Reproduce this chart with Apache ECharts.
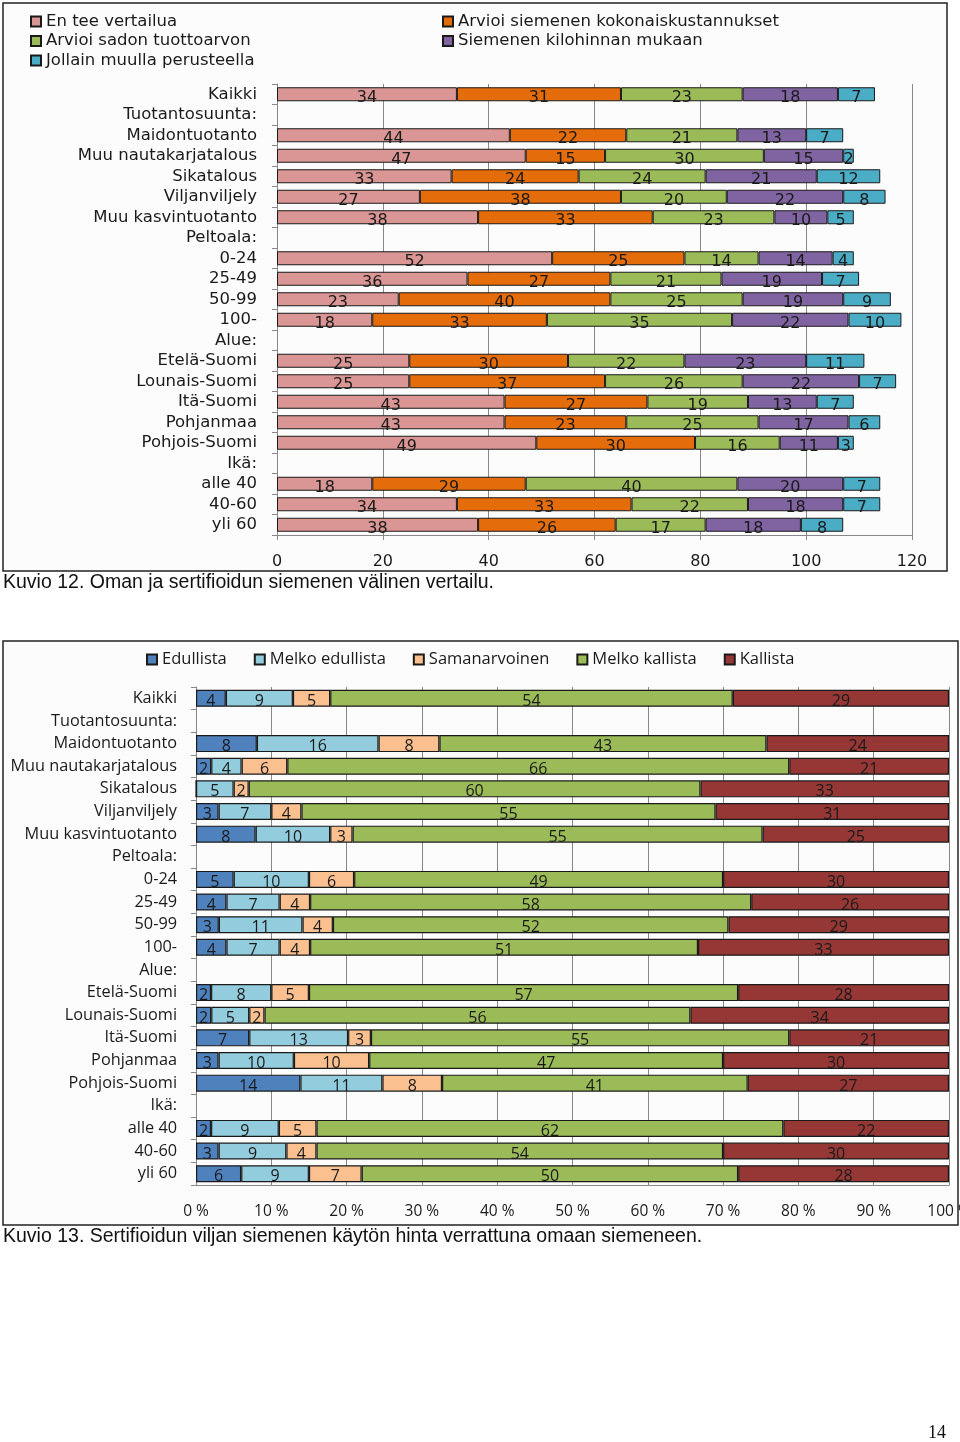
<!DOCTYPE html>
<html><head><meta charset="utf-8">
<script src="https://cdn.jsdelivr.net/npm/echarts@6/dist/echarts.min.js"></script>
<style>html,body{margin:0;padding:0;background:#fff}#c{width:960px;height:1442px}</style>
</head><body><div id="c"></div>
<script>
const categories = ['Kaikki','Tuotantosuunta:','Maidontuotanto','Muu nautakarjatalous','Sikatalous','Viljanviljely','Muu kasvintuotanto','Peltoala:','0-24','25-49','50-99','100-','Alue:','Etelä-Suomi','Lounais-Suomi','Itä-Suomi','Pohjanmaa','Pohjois-Suomi','Ikä:','alle 40','40-60','yli 60'];

// Chart 1 (Kuvio 12)
const names1 = ['En tee vertailua','Arvioi siemenen kokonaiskustannukset','Arvioi sadon tuottoarvon','Siemenen kilohinnan mukaan','Jollain muulla perusteella'];
const enTee      = [34,null,44,47,33,27,38,null,52,36,23,18,null,25,25,43,43,49,null,18,34,38];
const kokonais   = [31,null,22,15,24,38,33,null,25,27,40,33,null,30,37,27,23,30,null,29,33,26];
const sato       = [23,null,21,30,24,20,23,null,14,21,25,35,null,22,26,19,25,16,null,40,22,17];
const kilohinta  = [18,null,13,15,21,22,10,null,14,19,19,22,null,23,22,13,17,11,null,20,18,18];
const muu        = [7,null,7,2,12,8,5,null,4,7,9,10,null,11,7,7,6,3,null,7,7,8];
const xTicks1 = [0,20,40,60,80,100,120];

// Chart 2 (Kuvio 13)
const names2 = ['Edullista','Melko edullista','Samanarvoinen','Melko kallista','Kallista'];
const edullista      = [4,null,8,2,0,3,8,null,5,4,3,4,null,2,2,7,3,14,null,2,3,6];
const melkoEdullista = [9,null,16,4,5,7,10,null,10,7,11,7,null,8,5,13,10,11,null,9,9,9];
const samanarvoinen  = [5,null,8,6,2,4,3,null,6,4,4,4,null,5,2,3,10,8,null,5,4,7];
const melkoKallista  = [54,null,43,66,60,55,55,null,49,58,52,51,null,57,56,55,47,41,null,62,54,50];
const kallista       = [29,null,24,21,33,31,25,null,30,26,29,33,null,28,34,21,30,27,null,22,30,28];
const xTicks2 = ['0 %','10 %','20 %','30 %','40 %','50 %','60 %','70 %','80 %','90 %','100 %'];

const colors1 = ['#D99694','#E46C0A','#9BBB59','#8064A2','#4BACC6'];
const colors2 = ['#4F81BD','#93CDDD','#FAC090','#9BBB59','#953735'];
const F1 = 'DejaVu Sans', F2 = 'Open Sans';

const data1 = [enTee,kokonais,sato,kilohinta,muu];
const data2 = [edullista,melkoEdullista,samanarvoinen,melkoKallista,kallista];
const totals2 = categories.map((c,i)=>data2.reduce((s,a)=>s+(a[i]||0),0));

const series = [];
data1.forEach((arr,k)=>series.push({
  name:names1[k], type:'bar', stack:'a', xAxisIndex:0, yAxisIndex:0, barWidth:14,
  itemStyle:{color:colors1[k], borderColor:'#1a1a1a', borderWidth:1},
  label:{show:true, position:'inside', offset:[0,4], color:'#1a1a1a', fontFamily:F1, fontSize:16},
  data:arr
}));
data2.forEach((arr,k)=>series.push({
  name:names2[k], type:'bar', stack:'b', xAxisIndex:1, yAxisIndex:1, barWidth:17,
  itemStyle:{color:colors2[k], borderColor:'#1a1a1a', borderWidth:1.2},
  label:{show:true, position:'inside', offset:[0,3], color:'#1a1a1a', fontFamily:F2, fontSize:16,
    formatter:p=>(p.data && p.data.raw) ? String(p.data.raw) : ''},
  data:arr.map((v,i)=>v==null?null:{value: totals2[i] ? v/totals2[i]*100 : 0, raw:v})
}));

const legendText1 = {fontFamily:F1, fontSize:16.5, color:'#1a1a1a'};
const option = {
  animation:false,
  textStyle:{fontFamily:F1},
  legend:[
    {left:25, top:8, orient:'vertical', icon:'rect', itemWidth:10, itemHeight:10, itemGap:2.5, data:[names1[0],names1[2],names1[4]], textStyle:legendText1, selectedMode:false},
    {left:437, top:8, orient:'vertical', icon:'rect', itemWidth:10, itemHeight:10, itemGap:2.5, data:[names1[1],names1[3]], textStyle:legendText1, selectedMode:false},
    {left:141, top:646, orient:'horizontal', icon:'rect', itemWidth:10, itemHeight:10, itemGap:27, data:names2, textStyle:{fontFamily:F2, fontSize:16.5, color:'#1a1a1a'}, selectedMode:false}
  ],
  grid:[
    {left:277, top:84, width:635, height:451, outerBoundsMode:'none'},
    {left:196, top:687, width:753, height:498, outerBoundsMode:'none'}
  ],
  xAxis:[
    {gridIndex:0, type:'value', min:xTicks1[0], max:xTicks1[xTicks1.length-1], interval:xTicks1[1]-xTicks1[0],
     axisLine:{show:true, lineStyle:{color:'#888'}}, axisTick:{show:true, length:5, lineStyle:{color:'#888'}},
     splitLine:{show:true, lineStyle:{color:'#888', width:1}},
     axisLabel:{margin:19, fontFamily:F1, fontSize:16, color:'#1a1a1a'}},
    {gridIndex:1, type:'value', min:0, max:100, interval:10,
     axisLine:{show:true, lineStyle:{color:'#888'}}, axisTick:{show:false},
     splitLine:{show:true, lineStyle:{color:'#888', width:1}},
     axisLabel:{margin:19, fontFamily:F2, fontSize:15.5, color:'#1a1a1a', formatter:(v)=>xTicks2[Math.round(v/10)]}}
  ],
  yAxis:[
    {gridIndex:0, type:'category', data:categories, inverse:true,
     axisLine:{show:true, lineStyle:{color:'#888'}}, axisTick:{show:true, length:5, lineStyle:{color:'#888'}},
     axisLabel:{interval:0, hideOverlap:false, margin:20, fontFamily:F1, fontSize:16.5, color:'#1a1a1a'}},
    {gridIndex:1, type:'category', data:categories, inverse:true,
     axisLine:{show:true, lineStyle:{color:'#888'}}, axisTick:{show:true, length:5, lineStyle:{color:'#888'}},
     axisLabel:{interval:0, hideOverlap:false, margin:19, fontFamily:F2, fontSize:16.3, color:'#1a1a1a'}}
  ],
  graphic:[
    {type:'rect', z:-10, shape:{x:3, y:3, width:944, height:568}, style:{fill:'#fcfcfc', stroke:'#222', lineWidth:1.5}},
    {type:'rect', z:-10, shape:{x:3, y:641, width:955, height:584}, style:{fill:'#fcfcfc', stroke:'#222', lineWidth:1.5}},
    {type:'text', left:3, top:573, style:{text:'Kuvio 12. Oman ja sertifioidun siemenen välinen vertailu.', font:'19.5px "Liberation Sans", Arial, sans-serif', fill:'#111'}},
    {type:'text', left:3, top:1227, style:{text:'Kuvio 13. Sertifioidun viljan siemenen käytön hinta verrattuna omaan siemeneen.', font:'19.5px "Liberation Sans", Arial, sans-serif', fill:'#111'}},
    {type:'text', left:928, top:1424, style:{text:'14', font:'18px "Liberation Serif", serif', fill:'#111'}}
  ],
  series
};
const chart = echarts.init(document.getElementById('c'));
chart.setOption(option);
</script></body></html>
